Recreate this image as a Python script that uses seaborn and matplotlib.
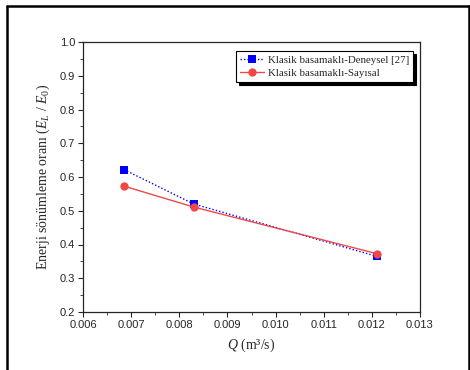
import matplotlib
matplotlib.use("Agg")
import matplotlib.pyplot as plt
import seaborn as sns
import pandas as pd
from matplotlib.lines import Line2D
from matplotlib.ticker import MultipleLocator, FormatStrFormatter

q_values = [0.00685, 0.0083, 0.0121]
deneysel = [0.622, 0.520, 0.365]
sayisal = [0.573, 0.511, 0.373]
label_deneysel = "Klasik basamaklı-Deneysel [27]"
label_sayisal = "Klasik basamaklı-Sayısal"

sns.set_style("ticks")
plt.rcParams['font.family'] = ['Liberation Sans', 'DejaVu Sans']
plt.rcParams['mathtext.fontset'] = 'custom'
plt.rcParams['mathtext.it'] = 'Liberation Serif:italic'
plt.rcParams['mathtext.rm'] = 'Liberation Serif'

df = pd.DataFrame({
    "Q": q_values * 2,
    "val": deneysel + sayisal,
    "seri": [label_deneysel] * 3 + [label_sayisal] * 3,
})

fig = plt.figure(figsize=(4.7, 3.7), dpi=100)
ax = fig.add_axes([83/470, 1-312/370, (420-83)/470, (312-42)/370])

sns.lineplot(data=df, x="Q", y="val", hue="seri", style="seri",
             palette={label_deneysel: "#0000ff", label_sayisal: "#f04848"},
             dashes={label_deneysel: (1, 1.5), label_sayisal: ""},
             markers={label_deneysel: "s", label_sayisal: "o"},
             markersize=6, markeredgewidth=0, linewidth=1, ax=ax, legend=False)

ax.set_xlim(0.006, 0.013)
ax.set_ylim(0.2, 1.0)
ax.xaxis.set_major_locator(MultipleLocator(0.001))
ax.xaxis.set_minor_locator(MultipleLocator(0.0005))
ax.yaxis.set_major_locator(MultipleLocator(0.1))
ax.yaxis.set_minor_locator(MultipleLocator(0.05))
ax.xaxis.set_major_formatter(FormatStrFormatter('%.3f'))
ax.yaxis.set_major_formatter(FormatStrFormatter('%.1f'))
ax.tick_params(which='major', direction='out', length=3.5, width=0.8, labelsize=8, pad=2)
ax.tick_params(which='minor', direction='out', length=2, width=0.6)
for s in ax.spines.values():
    s.set_linewidth(0.9)
    s.set_visible(True)

ax.set_xlabel("$Q$ (m³/s)", family='Liberation Serif', fontsize=10, labelpad=5)
ax.set_ylabel("Enerji sönümleme oranı ($E_L$ / $E_0$)", family='Liberation Serif', fontsize=10, labelpad=6)

handles = [
    Line2D([], [], color="#0000ff", linestyle=(0, (1, 1.5)), marker="s", markersize=6, markeredgewidth=0, linewidth=1),
    Line2D([], [], color="#f04848", linestyle="-", marker="o", markersize=6, markeredgewidth=0, linewidth=1),
]
leg = ax.legend(handles, [label_deneysel, label_sayisal], loc='upper right',
                bbox_to_anchor=(0.98, 0.965), prop={'family': 'Liberation Serif', 'size': 7.8},
                frameon=True, fancybox=False, shadow={'color': 'black', 'alpha': 1},
                edgecolor='black', handlelength=2.2, handletextpad=0.4, borderpad=0.35,
                labelspacing=0.35, borderaxespad=0)
leg.get_frame().set_linewidth(0.8)

# outer frame
for xs, ys in [([7/470, 7/470], [1-6/370, 0]), ([7/470, 469/470], [1-6/370, 1-6/370]), ([469/470, 469/470], [1-6/370, 0])]:
    fig.add_artist(Line2D(xs, ys, color='black', linewidth=1.8, transform=fig.transFigure))

fig.savefig("out.png", dpi=100)
